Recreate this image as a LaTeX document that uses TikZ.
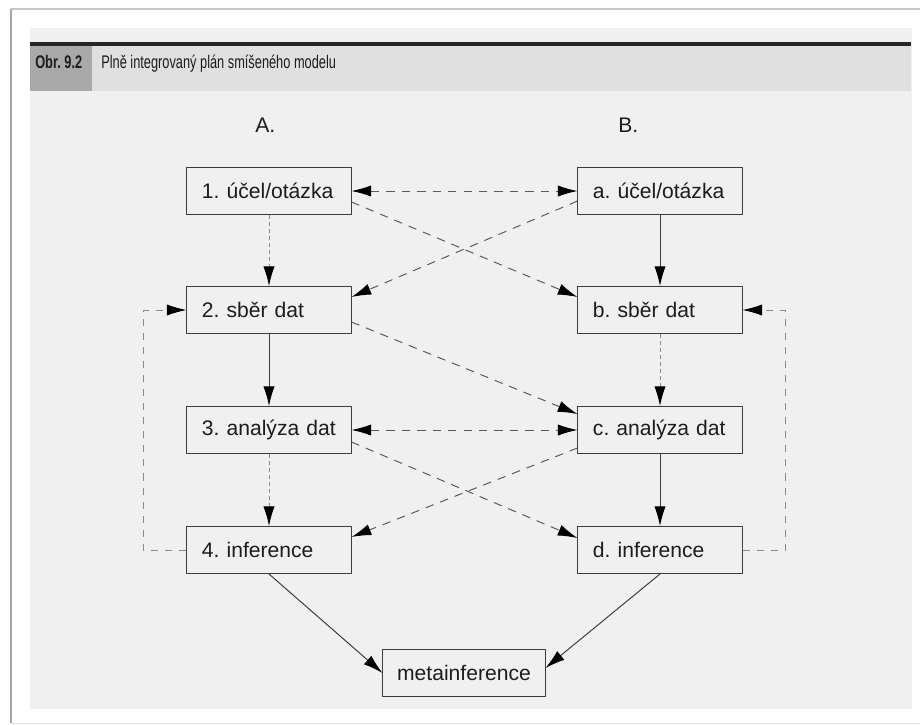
\documentclass[tikz,border=0pt]{standalone}
\usepackage{fontspec}
\setmainfont{Liberation Sans}
\usepackage{graphicx}
\usetikzlibrary{arrows.meta,calc}
\frenchspacing
\definecolor{panel}{HTML}{F0F0F0}
\definecolor{bandc}{HTML}{E0E0E0}
\definecolor{obrc}{HTML}{A9A9A9}
\definecolor{txt}{HTML}{1C1C1C}
\definecolor{boxc}{HTML}{3C3C3C}
\definecolor{dashc}{HTML}{5A5A5A}
\definecolor{faintc}{HTML}{8A8A8A}
\tikzset{
  frame/.style={draw=boxc, line width=0.7pt, fill=panel, minimum height=1.175cm,
    text=txt, font=\fontsize{15}{18}\selectfont},
  box/.style={frame, text width=3.6cm, inner xsep=0.25cm, align=left,
    execute at begin node=\hspace*{0.125cm}},
  mbox/.style={frame, minimum width=4.05cm, align=center},
  flow/.style={->, draw=boxc, line width=0.7pt},
  link/.style={->, draw=dashc, line width=0.7pt, dash pattern=on 6pt off 5pt},
  faint/.style={->, draw=faintc, line width=0.7pt, dash pattern=on 3pt off 2pt},
  back/.style={->, draw=faintc, line width=0.7pt, dash pattern=on 5pt off 5pt}
}
\begin{document}
\begin{tikzpicture}[x=0.025cm, y=-0.025cm, line join=round,
    >={Latex[length=14pt,width=8pt,color=black]}]
    % frame and panel
    \fill[white] (0,0) rectangle (920,724);
    \useasboundingbox (0,0) rectangle (920,724);
    \fill[panel] (30,28) rectangle (912,709);
    \draw[black!22, line width=0.8pt] (11,9) -- (920,9);
    \draw[black!35, line width=2pt] (11,9) -- (11,723);
    \draw[black!12, line width=0.6pt] (11,723) -- (920,723);
    % header
    \fill[bandc] (30,46) rectangle (911,91);
    \fill[obrc] (30,46) rectangle (92,91);
    \draw[black!85, line width=2.2pt] (30,44) -- (911,44);
    \node[anchor=base west, inner sep=0, text=txt] (obr) at (35,68)
        {\scalebox{0.7}[1]{\fontsize{13}{15}\selectfont\bfseries Obr. 9.2}};
    \node[anchor=base west, inner sep=0, text=txt] (title) at (101,68)
        {\scalebox{0.7}[1]{\fontsize{13}{15}\selectfont Plně integrovaný plán smíšeného modelu}};
    % columns
    \node[anchor=base west, inner sep=0, text=txt, font=\fontsize{15}{18}\selectfont] (colA) at (255,132) {A.};
    \node[anchor=base west, inner sep=0, text=txt, font=\fontsize{15}{18}\selectfont] (colB) at (618,132) {B.};
    \node[box] (q1) at (269,191) {1. účel/otázka};
    \node[box] (s2) at (269,310) {2. sběr dat};
    \node[box] (an3) at (269,430) {3. analýza dat};
    \node[box] (in4) at (269,550) {4. inference};
    \node[box] (qa) at (660,191) {a. účel/otázka};
    \node[box] (sb) at (660,310) {b. sběr dat};
    \node[box] (anc) at (660,430) {c. analýza dat};
    \node[box] (ind) at (660,550) {d. inference};
    \node[mbox] (meta) at (464,673) {metainference};
    % vertical flow
    \draw[faint] (q1) -- (s2);
    \draw[flow] (s2) -- (an3);
    \draw[faint] (an3) -- (in4);
    \draw[flow] (qa) -- (sb);
    \draw[faint] (sb) -- (anc);
    \draw[flow] (anc) -- (ind);
    % exchange between A and B
    \draw[link, <->] (q1) -- (qa);
    \draw[link, <->] (an3) -- (anc);
    \draw[link] ($(q1.east)+(0,11)$) -- ($(sb.west)+(0,-13)$);
    \draw[link] ($(qa.west)+(0,10)$) -- ($(s2.east)+(0,-13)$);
    \draw[link] ($(s2.east)+(0,12)$) -- ($(anc.west)+(0,-16)$);
    \draw[link] ($(anc.west)+(0,18)$) -- ($(in4.east)+(0,-13)$);
    \draw[link] ($(an3.east)+(0,12)$) -- ($(ind.west)+(0,-12)$);
    % feedback
    \draw[back] (in4.west) -- ++(-43,0) |- (s2.west);
    \draw[back] (ind.east) -- ++(43,0) |- (sb.east);
    % to metainference
    \draw[flow] (in4.south) -- (meta.west);
    \draw[flow] (ind.south) -- ($(meta.east)+(0,-5)$);
\end{tikzpicture}
\end{document}
